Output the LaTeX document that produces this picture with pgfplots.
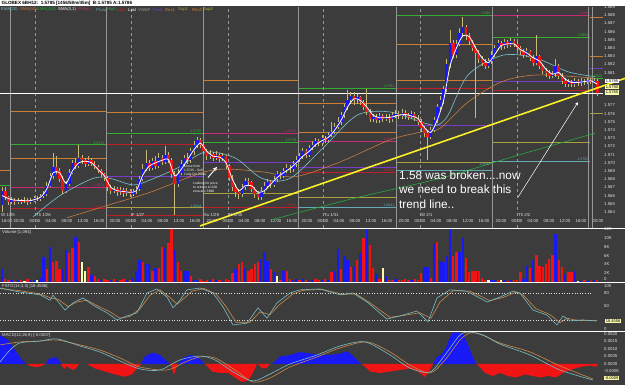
\documentclass[border=0pt]{standalone}
\usepackage{pgfplots}
\pgfplotsset{compat=1.18}
\usepackage{pgfplotstable}
\usepackage{fontspec}
\setmainfont{Liberation Sans}
\definecolor{bg}{RGB}{60,60,60}
\definecolor{cblue}{RGB}{25,25,245}
\definecolor{cred}{RGB}{240,20,20}
\definecolor{wick}{RGB}{200,185,120}
\definecolor{vyel}{RGB}{250,250,170}
\definecolor{lbl}{RGB}{225,225,225}
\definecolor{tealc}{RGB}{120,195,205}
\definecolor{brownc}{RGB}{200,125,60}
\definecolor{greenc}{RGB}{40,170,60}
\definecolor{orc}{RGB}{205,125,50}
\definecolor{mag}{RGB}{200,40,120}
\definecolor{purp}{RGB}{120,60,200}
\definecolor{olive}{RGB}{170,160,60}
\definecolor{pvteal}{RGB}{100,170,180}
\definecolor{pvred}{RGB}{190,30,40}
\definecolor{pvgreen}{RGB}{50,175,50}
\definecolor{trend}{RGB}{250,240,40}
\definecolor{vline}{RGB}{150,150,150}
\definecolor{stk}{RGB}{120,190,200}
\definecolor{std}{RGB}{205,140,70}
\newcommand\tk{\fontsize{4.3}{5}\selectfont}
\newcommand\sm{\fontsize{3.6}{4.2}\selectfont}

% n open high low close type(1 up,0 down) volume(K) volcolour(1 blue,0 red,2 yellow)
\pgfplotstableread{
n o h l c t v vc
0 1.5648 1.5670 1.5640 1.5666 1 3.0 1
1 1.5666 1.5670 1.5655 1.5658 0 0.6 0
2 1.5658 1.5660 1.5648 1.5652 0 0.4 0
3 1.5652 1.5658 1.5650 1.5655 1 0.5 1
4 1.5655 1.5657 1.5649 1.5652 0 0.3 0
5 1.5652 1.5657 1.5650 1.5654 1 0.4 1
6 1.5654 1.5656 1.5650 1.5653 0 0.5 0
7 1.5653 1.5658 1.5651 1.5655 1 0.3 2
8 1.5655 1.5657 1.5649 1.5652 0 0.6 0
9 1.5652 1.5657 1.5650 1.5654 1 0.4 1
10 1.5654 1.5660 1.5652 1.5657 1 0.5 1
11 1.5657 1.5660 1.5653 1.5656 0 0.4 2
12 1.5656 1.5662 1.5654 1.5659 1 1.0 1
13 1.5659 1.5666 1.5657 1.5662 1 5.7 1
14 1.5662 1.5676 1.5660 1.5672 1 3.0 0
15 1.5672 1.5688 1.5670 1.5684 1 8.0 1
16 1.5684 1.5712 1.5680 1.5695 1 4.6 0
17 1.5695 1.5708 1.5686 1.5690 0 4.8 0
18 1.5690 1.5694 1.5676 1.5680 0 3.0 0
19 1.5680 1.5684 1.5662 1.5666 0 3.0 1
20 1.5666 1.5678 1.5663 1.5674 1 7.2 1
21 1.5674 1.5692 1.5672 1.5688 1 6.7 0
22 1.5688 1.5704 1.5686 1.5700 1 7.7 0
23 1.5700 1.5706 1.5692 1.5696 0 10.2 1
24 1.5696 1.5722 1.5694 1.5706 1 9.0 0
25 1.5706 1.5710 1.5699 1.5703 0 4.5 2
26 1.5703 1.5706 1.5695 1.5698 0 2.6 2
27 1.5698 1.5708 1.5696 1.5704 1 3.3 0
28 1.5704 1.5706 1.5696 1.5699 0 1.7 1
29 1.5699 1.5702 1.5692 1.5695 0 1.3 0
30 1.5695 1.5697 1.5687 1.5690 0 0.6 0
31 1.5690 1.5693 1.5683 1.5686 0 0.5 1
32 1.5686 1.5688 1.5678 1.5682 0 0.7 0
33 1.5682 1.5684 1.5666 1.5670 0 0.5 0
34 1.5670 1.5673 1.5662 1.5666 0 0.4 1
35 1.5666 1.5672 1.5663 1.5668 1 0.6 0
36 1.5668 1.5670 1.5660 1.5664 0 0.3 1
37 1.5664 1.5670 1.5661 1.5667 1 0.5 0
38 1.5667 1.5669 1.5658 1.5663 0 0.6 0
39 1.5663 1.5669 1.5660 1.5666 1 0.4 1
40 1.5666 1.5668 1.5658 1.5662 0 0.5 0
41 1.5662 1.5668 1.5659 1.5665 1 0.8 1
42 1.5665 1.5672 1.5662 1.5668 1 2.5 1
43 1.5668 1.5684 1.5666 1.5680 1 5.0 1
44 1.5680 1.5698 1.5678 1.5693 1 4.6 0
45 1.5693 1.5715 1.5690 1.5700 1 4.0 1
46 1.5700 1.5704 1.5690 1.5694 0 4.0 1
47 1.5694 1.5706 1.5691 1.5702 1 2.5 0
48 1.5702 1.5708 1.5692 1.5696 0 3.2 1
49 1.5696 1.5712 1.5694 1.5706 1 3.2 0
50 1.5706 1.5710 1.5697 1.5701 0 8.0 0
51 1.5701 1.5720 1.5699 1.5710 1 7.7 1
52 1.5710 1.5713 1.5700 1.5704 0 8.8 0
53 1.5704 1.5706 1.5682 1.5686 0 12.2 0
54 1.5686 1.5690 1.5636 1.5674 0 7.2 1
55 1.5674 1.5692 1.5670 1.5688 1 4.5 0
56 1.5688 1.5703 1.5685 1.5699 1 2.5 0
57 1.5699 1.5710 1.5696 1.5706 1 2.5 1
58 1.5706 1.5712 1.5699 1.5703 0 2.5 1
59 1.5703 1.5718 1.5700 1.5714 1 1.3 0
60 1.5714 1.5726 1.5710 1.5722 1 0.5 1
61 1.5722 1.5732 1.5718 1.5728 1 0.4 1
62 1.5728 1.5730 1.5718 1.5722 0 0.6 0
63 1.5722 1.5725 1.5710 1.5714 0 0.3 0
64 1.5714 1.5717 1.5704 1.5708 0 0.5 0
65 1.5708 1.5715 1.5705 1.5711 1 0.4 1
66 1.5711 1.5713 1.5702 1.5706 0 0.6 0
67 1.5706 1.5714 1.5703 1.5710 1 0.5 1
68 1.5710 1.5712 1.5701 1.5705 0 0.4 0
69 1.5705 1.5712 1.5702 1.5708 1 0.3 1
70 1.5708 1.5710 1.5692 1.5696 0 0.6 0
71 1.5696 1.5698 1.5678 1.5682 0 0.5 0
72 1.5682 1.5685 1.5666 1.5670 0 2.0 0
73 1.5670 1.5674 1.5658 1.5664 0 3.0 1
74 1.5664 1.5668 1.5656 1.5662 0 4.0 0
75 1.5662 1.5674 1.5658 1.5670 1 4.5 0
76 1.5670 1.5682 1.5667 1.5678 1 3.2 1
77 1.5678 1.5682 1.5672 1.5676 0 2.5 0
78 1.5676 1.5678 1.5664 1.5668 0 3.0 0
79 1.5668 1.5671 1.5657 1.5662 0 4.0 0
80 1.5662 1.5666 1.5655 1.5658 0 4.5 0
81 1.5658 1.5670 1.5655 1.5666 1 5.3 1
82 1.5666 1.5676 1.5663 1.5672 1 6.8 1
83 1.5672 1.5680 1.5669 1.5676 1 4.7 1
84 1.5676 1.5679 1.5669 1.5673 0 3.0 0
85 1.5673 1.5684 1.5670 1.5680 1 2.2 1
86 1.5680 1.5690 1.5677 1.5686 1 1.3 2
87 1.5686 1.5689 1.5680 1.5684 0 0.5 0
88 1.5684 1.5694 1.5681 1.5690 1 2.4 1
89 1.5690 1.5698 1.5687 1.5694 1 2.4 0
90 1.5694 1.5697 1.5688 1.5692 0 0.6 0
91 1.5692 1.5702 1.5689 1.5698 1 0.5 1
92 1.5698 1.5708 1.5695 1.5704 1 0.7 1
93 1.5704 1.5712 1.5701 1.5708 1 0.4 0
94 1.5708 1.5718 1.5705 1.5714 1 0.6 1
95 1.5714 1.5717 1.5706 1.5710 0 0.5 0
96 1.5710 1.5722 1.5707 1.5718 1 0.3 1
97 1.5718 1.5726 1.5715 1.5722 1 0.5 1
98 1.5722 1.5730 1.5719 1.5726 1 0.6 0
99 1.5726 1.5729 1.5720 1.5724 0 0.4 0
100 1.5724 1.5734 1.5721 1.5730 1 0.5 1
101 1.5730 1.5733 1.5724 1.5728 0 0.7 0
102 1.5728 1.5738 1.5725 1.5734 1 0.5 1
103 1.5734 1.5750 1.5731 1.5738 1 2.2 0
104 1.5738 1.5748 1.5735 1.5744 1 2.6 1
105 1.5744 1.5756 1.5741 1.5750 1 7.5 1
106 1.5750 1.5762 1.5746 1.5758 1 3.0 0
107 1.5758 1.5772 1.5755 1.5768 1 6.0 1
108 1.5768 1.5789 1.5764 1.5776 1 5.0 1
109 1.5776 1.5786 1.5772 1.5782 1 3.5 0
110 1.5782 1.5786 1.5771 1.5776 0 3.6 1
111 1.5776 1.5784 1.5772 1.5780 1 5.0 0
112 1.5780 1.5782 1.5770 1.5774 0 6.5 1
113 1.5774 1.5776 1.5764 1.5768 0 10.0 0
114 1.5768 1.5790 1.5758 1.5762 0 12.2 1
115 1.5762 1.5765 1.5750 1.5754 0 8.5 0
116 1.5754 1.5760 1.5750 1.5756 1 3.2 0
117 1.5756 1.5759 1.5748 1.5752 0 1.8 1
118 1.5752 1.5761 1.5749 1.5757 1 0.6 0
119 1.5757 1.5760 1.5750 1.5754 0 3.2 2
120 1.5754 1.5760 1.5751 1.5756 1 1.3 1
121 1.5756 1.5759 1.5749 1.5753 0 0.5 0
122 1.5753 1.5762 1.5750 1.5758 1 0.4 0
123 1.5758 1.5764 1.5755 1.5760 1 0.6 1
124 1.5760 1.5763 1.5753 1.5757 0 0.5 0
125 1.5757 1.5765 1.5754 1.5761 1 0.4 0
126 1.5761 1.5764 1.5754 1.5758 0 0.6 0
127 1.5758 1.5761 1.5752 1.5756 0 0.5 0
128 1.5756 1.5763 1.5753 1.5759 1 0.4 1
129 1.5759 1.5762 1.5751 1.5755 0 0.6 0
130 1.5755 1.5758 1.5746 1.5750 0 0.5 0
131 1.5750 1.5753 1.5738 1.5742 0 2.0 0
132 1.5742 1.5745 1.5731 1.5736 0 3.5 1
133 1.5736 1.5739 1.5703 1.5732 0 3.5 1
134 1.5732 1.5744 1.5729 1.5740 1 0.8 0
135 1.5740 1.5756 1.5737 1.5752 1 8.6 1
136 1.5752 1.5772 1.5749 1.5768 1 9.0 0
137 1.5768 1.5782 1.5764 1.5776 1 4.8 1
138 1.5776 1.5794 1.5772 1.5790 1 4.5 1
139 1.5790 1.5826 1.5786 1.5820 1 6.0 1
140 1.5820 1.5862 1.5816 1.5846 1 12.2 1
141 1.5846 1.5850 1.5828 1.5832 0 5.8 0
142 1.5832 1.5850 1.5828 1.5845 1 6.8 0
143 1.5845 1.5864 1.5842 1.5858 1 6.8 1
144 1.5858 1.5878 1.5854 1.5865 1 10.0 1
145 1.5865 1.5868 1.5850 1.5855 0 5.5 0
146 1.5855 1.5858 1.5844 1.5848 0 2.2 0
147 1.5848 1.5850 1.5836 1.5840 0 2.5 0
148 1.5840 1.5843 1.5755 1.5834 0 2.5 0
149 1.5834 1.5837 1.5822 1.5826 0 2.5 0
150 1.5826 1.5830 1.5818 1.5822 0 1.0 0
151 1.5822 1.5826 1.5814 1.5818 0 0.5 0
152 1.5818 1.5828 1.5815 1.5824 1 0.4 2
153 1.5824 1.5836 1.5821 1.5832 1 0.5 1
154 1.5832 1.5844 1.5829 1.5840 1 0.4 1
155 1.5840 1.5850 1.5837 1.5846 1 0.5 0
156 1.5846 1.5849 1.5838 1.5842 0 0.4 2
157 1.5842 1.5851 1.5839 1.5847 1 0.5 1
158 1.5847 1.5850 1.5840 1.5844 0 0.3 0
159 1.5844 1.5852 1.5841 1.5848 1 0.5 1
160 1.5848 1.5851 1.5841 1.5845 0 0.4 0
161 1.5845 1.5848 1.5836 1.5840 0 0.5 0
162 1.5840 1.5843 1.5832 1.5836 0 2.2 0
163 1.5836 1.5839 1.5828 1.5832 0 0.6 1
164 1.5832 1.5840 1.5829 1.5836 1 3.7 1
165 1.5836 1.5838 1.5824 1.5828 0 3.2 0
166 1.5828 1.5831 1.5818 1.5822 0 5.0 1
167 1.5822 1.5856 1.5819 1.5830 1 6.2 0
168 1.5830 1.5832 1.5814 1.5818 0 3.6 0
169 1.5818 1.5821 1.5808 1.5812 0 3.3 0
170 1.5812 1.5815 1.5805 1.5810 0 4.0 0
171 1.5810 1.5813 1.5802 1.5806 0 5.3 0
172 1.5806 1.5812 1.5803 1.5808 1 6.2 0
173 1.5808 1.5826 1.5805 1.5818 1 11.0 1
174 1.5818 1.5820 1.5802 1.5806 0 5.0 0
175 1.5806 1.5809 1.5796 1.5800 0 3.3 0
176 1.5800 1.5803 1.5793 1.5796 0 1.8 1
177 1.5796 1.5802 1.5793 1.5799 1 2.2 0
178 1.5799 1.5801 1.5792 1.5796 0 2.3 0
179 1.5796 1.5803 1.5793 1.5800 1 2.5 1
180 1.5800 1.5802 1.5794 1.5797 0 0.3 2
181 1.5797 1.5803 1.5794 1.5800 1 0.3 1
182 1.5800 1.5802 1.5795 1.5798 0 0.4 0
183 1.5798 1.5804 1.5796 1.5801 1 0.3 1
184 1.5801 1.5803 1.5796 1.5799 0 0.3 0
185 1.5799 1.5803 1.5797 1.5800 1 0.4 1
186 1.5800 1.5802 1.5782 1.5785 0 0.5 0
}\candles

\pgfplotstableread{
n s
0 1.5660
3 1.5655
6 1.5654
9 1.5654
12 1.5658
14 1.5668
16 1.5688
18 1.5688
20 1.5675
22 1.5690
24 1.5700
26 1.5702
28 1.5700
30 1.5692
32 1.5684
34 1.5670
36 1.5666
38 1.5665
40 1.5664
42 1.5666
44 1.5685
46 1.5696
48 1.5700
50 1.5703
52 1.5704
54 1.5684
56 1.5692
58 1.5704
60 1.5716
62 1.5724
64 1.5714
66 1.5708
68 1.5707
70 1.5700
72 1.5680
74 1.5666
76 1.5672
78 1.5672
80 1.5664
82 1.5666
84 1.5674
86 1.5682
88 1.5688
90 1.5693
92 1.5700
94 1.5708
96 1.5714
98 1.5722
100 1.5727
102 1.5731
104 1.5740
106 1.5752
108 1.5768
110 1.5778
112 1.5776
114 1.5768
116 1.5758
118 1.5755
120 1.5755
122 1.5756
124 1.5758
126 1.5759
128 1.5757
130 1.5754
132 1.5743
134 1.5737
136 1.5752
138 1.5776
140 1.5818
142 1.5840
144 1.5855
146 1.5854
148 1.5840
150 1.5828
152 1.5822
154 1.5832
156 1.5843
158 1.5845
160 1.5845
162 1.5838
164 1.5834
166 1.5828
168 1.5824
170 1.5814
172 1.5808
174 1.5810
176 1.5802
178 1.5798
180 1.5798
182 1.5799
184 1.5800
186 1.5796
}\smathree

\pgfplotsset{
  panel/.style={scale only axis, width=603pt, xmin=0, xmax=603,
    axis line style={draw=none}, major tick length=0pt, minor tick num=0,
    scaled y ticks=false, ytick pos=right, yticklabel pos=right,
    yticklabel style={font=\tk, text=lbl, anchor=west, inner sep=1pt},
    /pgf/number format/assume math mode=true},
  pv/.style={line width=0.6pt, mark=none},
  candle/.style={draw=none, mark=none, error bars/y dir=plus, error bars/y explicit, error bars/error mark=none},
}

\begin{document}
\begin{tikzpicture}
\useasboundingbox (0pt,0pt) rectangle (625pt,385pt);
\fill[bg] (0pt,0pt) rectangle (625pt,385pt);

%================ MAIN PRICE PANEL
\begin{axis}[panel, at={(0pt,157pt)}, anchor=south west, height=221pt,
  ymin=1.562049, ymax=1.589, clip=false,
  ytick={1.564,1.565,1.566,1.567,1.568,1.569,1.570,1.571,1.572,1.573,1.574,1.575,1.576,1.577,1.581,1.582,1.583,1.584,1.585,1.586,1.587,1.588,1.589},
  yticklabels={1.564,1.565,1.566,1.567,1.568,1.569,1.570,1.571,1.572,1.573,1.574,1.575,1.576,1.577,1.581,1.582,1.583,1.584,1.585,1.586,1.587,1.588,1.589},
  xtick={7,19,35,51,67,83,99,115,131,147,163,179,195,212,228,244,260,276,292,307,323,339,355,371,387,404,420,436,452,468,484,501,517,533,549,565,581,598},
  xticklabels={16:00,20:00,00:00,04:00,08:00,12:00,16:00,20:00,00:00,04:00,08:00,12:00,16:00,20:00,00:00,04:00,08:00,12:00,16:00,20:00,00:00,04:00,08:00,12:00,16:00,20:00,00:00,04:00,08:00,12:00,16:00,20:00,00:00,04:00,08:00,12:00,16:00,20:00},
  xticklabel style={font=\tk, text=lbl, anchor=south, yshift=1.5pt},
]
% pivot levels
\addplot[pv, orc] coordinates {(0,1.5691) (10,1.5691)};
\addplot[pv, pvgreen] coordinates {(0,1.5673) (10,1.5673)};
\addplot[pv, orc] coordinates {(10,1.5763) (106,1.5763)};
\addplot[pv, pvgreen] coordinates {(10,1.5722) (106,1.5722)};
\addplot[pv, orc] coordinates {(10,1.5706) (106,1.5706)};
\addplot[pv, mag] coordinates {(10,1.5670) (106,1.5670)};
\addplot[pv, pvred] coordinates {(10,1.5644) (106,1.5644)};
\addplot[pv, orc] coordinates {(106,1.5761) (203,1.5761)};
\addplot[pv, pvgreen] coordinates {(106,1.5736) (203,1.5736)};
\addplot[pv, pvred] coordinates {(106,1.5722) (203,1.5722)};
\addplot[pv, purp] coordinates {(106,1.5683) (203,1.5683)};
\addplot[pv, olive] coordinates {(106,1.5646) (203,1.5646)};
\addplot[pv, pvred] coordinates {(106,1.5636) (203,1.5636)};
\addplot[pv, orc] coordinates {(203,1.5800) (298,1.5800)};
\addplot[pv, mag] coordinates {(203,1.5736) (298,1.5736)};
\addplot[pv, pvgreen] coordinates {(203,1.5725) (298,1.5725)};
\addplot[pv, purp] coordinates {(203,1.5700) (298,1.5700)};
\addplot[pv, olive] coordinates {(203,1.5663) (298,1.5663)};
\addplot[pv, pvred] coordinates {(203,1.5646) (298,1.5646)};
\addplot[pv, pvgreen] coordinates {(298,1.5791) (396,1.5791)};
\addplot[pv, orc] coordinates {(298,1.5773) (396,1.5773)};
\addplot[pv, orc] coordinates {(298,1.5737) (396,1.5737)};
\addplot[pv, mag] coordinates {(298,1.5726) (396,1.5726)};
\addplot[pv, purp] coordinates {(298,1.5694) (396,1.5694)};
\addplot[pv, pvred] coordinates {(298,1.5689) (396,1.5689)};
\addplot[pv, olive] coordinates {(298,1.5658) (396,1.5658)};
\addplot[pv, pvteal] coordinates {(298,1.5646) (396,1.5646)};
\addplot[pv, pvgreen] coordinates {(396,1.5880) (492,1.5880)};
\addplot[pv, orc] coordinates {(396,1.5845) (492,1.5845)};
\addplot[pv, orc] coordinates {(396,1.5800) (492,1.5800)};
\addplot[pv, pvred] coordinates {(396,1.5791) (492,1.5791)};
\addplot[pv, purp] coordinates {(396,1.5746) (492,1.5746)};
\addplot[pv, olive] coordinates {(396,1.5701) (492,1.5701)};
\addplot[pv, pvteal] coordinates {(396,1.5691) (492,1.5691)};
\addplot[pv, mag] coordinates {(492,1.5880) (590,1.5880)};
\addplot[pv, pvgreen] coordinates {(492,1.5853) (590,1.5853)};
\addplot[pv, purp] coordinates {(492,1.5799) (590,1.5799)};
\addplot[pv, pvred] coordinates {(492,1.5789) (590,1.5789)};
\addplot[pv, olive] coordinates {(492,1.5725) (590,1.5725)};
\addplot[pv, pvteal] coordinates {(492,1.5702) (590,1.5702)};
\addplot[pv, orc] coordinates {(590,1.5878) (603,1.5878)};
\addplot[pv, orc] coordinates {(590,1.5830) (603,1.5830)};
\addplot[pv, purp] coordinates {(590,1.5815) (603,1.5815)};
\addplot[pv, pvgreen] coordinates {(590,1.5803) (603,1.5803)};
\addplot[pv, olive] coordinates {(590,1.5760) (603,1.5760)};
% session / midnight lines
\pgfplotsinvokeforeach{10,106,203,298,396,492,588,592}{
  \addplot[vline, line width=0.5pt, mark=none] coordinates {(#1,1.56205) (#1,1.589)};}
\pgfplotsinvokeforeach{35,131,228,323,420,517}{
  \addplot[vline, line width=0.5pt, dashed, mark=none] coordinates {(#1,1.56205) (#1,1.589)};}
% last price line
\addplot[white, line width=0.5pt, mark=none] coordinates {(0,1.5785) (603,1.5785)};
% moving averages
\addplot[greenc, line width=0.6pt, mark=none, smooth] coordinates {(270,1.5630) (355,1.5657) (440,1.5681) (520,1.5710) (595,1.5736)};
\addplot[brownc, line width=0.6pt, mark=none, smooth] coordinates {(67,1.5633) (110,1.5649) (150,1.5664) (212,1.5691) (262,1.5689) (295,1.5683) (340,1.5701) (390,1.5728) (423,1.5738) (440,1.5742) (468,1.5774) (502,1.5799) (535,1.5807) (575,1.5805) (595,1.5803)};
\addplot[tealc, line width=0.6pt, mark=none, smooth] coordinates {(33,1.5634) (60,1.5660) (93,1.5681) (110,1.5681) (133,1.5673) (150,1.5679) (178,1.5694) (205,1.5713) (235,1.5706) (262,1.5681) (290,1.5681) (323,1.5718) (357,1.5758) (390,1.5762) (423,1.5749) (437,1.5746) (448,1.5758) (468,1.5807) (502,1.5831) (535,1.5828) (568,1.5811) (595,1.5805)};
% candles: wicks then bodies (error bars from low to high, open to close)
\addplot[candle, error bars/error bar style={line width=0.7pt, draw=wick, solid}]
  table[x expr=2+3.2*\thisrow{n}, y=l, y error plus expr=\thisrow{h}-\thisrow{l}]{\candles};
\addplot[candle, error bars/error bar style={line width=2.8pt, draw=cblue, solid}, restrict expr to domain={\thisrow{t}}{0.5:1.5}]
  table[x expr=2+3.2*\thisrow{n}, y=o, y error plus expr=\thisrow{c}-\thisrow{o}]{\candles};
\addplot[candle, error bars/error bar style={line width=2.8pt, draw=cred, solid}, restrict expr to domain={\thisrow{t}}{-0.5:0.5}]
  table[x expr=2+3.2*\thisrow{n}, y=c, y error plus expr=\thisrow{o}-\thisrow{c}]{\candles};
% fast SMA
\addplot[white, line width=0.8pt, mark=none, smooth, tension=0.4] table[x expr=2+3.2*\thisrow{n}, y=s]{\smathree};
% trend line and arrows
\addplot[trend, line width=1.6pt, mark=none] coordinates {(200,1.5623) (625,1.5803)};
\addplot[white, line width=0.5pt, mark=none, -stealth] coordinates {(518,1.5658) (578,1.5774)};
\addplot[white, line width=0.9pt, mark=none, -stealth] coordinates {(208,1.5682) (217,1.5695)};
\end{axis}

%================ VOLUME
\begin{axis}[panel, at={(0pt,103pt)}, anchor=south west, height=53pt,
  ymin=0, ymax=12.05, xtick=\empty,
  ytick={2,4,6,8,10,12}, yticklabels={2K,4K,6K,8K,10K,12K}]
\addplot[ycomb, draw=cblue, line width=2.4pt, mark=none, restrict expr to domain={\thisrow{vc}}{0.5:1.5}]
  table[x expr=2+3.2*\thisrow{n}, y=v]{\candles};
\addplot[ycomb, draw=cred, line width=2.4pt, mark=none, restrict expr to domain={\thisrow{vc}}{-0.5:0.5}]
  table[x expr=2+3.2*\thisrow{n}, y=v]{\candles};
\addplot[ycomb, draw=vyel, line width=2.4pt, mark=none, restrict expr to domain={\thisrow{vc}}{1.5:2.5}]
  table[x expr=2+3.2*\thisrow{n}, y=v]{\candles};
\end{axis}

%================ STOCHASTIC
\begin{axis}[panel, at={(0pt,54pt)}, anchor=south west, height=48pt,
  ymin=-4.44, ymax=102.2, xtick=\empty,
  ytick={0,50,80}, yticklabels={0,50,80}]
\addplot[lbl, dotted, line width=0.6pt, mark=none] coordinates {(0,80) (592,80)};
\addplot[lbl, dotted, line width=0.6pt, mark=none] coordinates {(0,20) (592,20)};
\addplot[std, line width=0.6pt, mark=none] coordinates {(0,90) (20,85) (40,78) (52,68) (58,66) (68,50) (77,60) (87,64) (97,52) (110,38) (120,24) (130,28) (140,45) (150,75) (160,87) (170,70) (177,55) (184,68) (192,84) (204,90) (216,78) (226,50) (236,15) (250,15) (260,38) (270,32) (280,55) (293,78) (303,86) (322,88) (343,77) (356,78) (370,58) (390,26) (403,30) (420,36) (431,24) (440,60) (453,85) (470,84) (490,63) (503,70) (516,82) (523,76) (536,45) (550,32) (560,14) (567,24) (575,20) (588,19) (597,19)};
\addplot[stk, line width=0.6pt, mark=none] coordinates {(0,91) (20,82) (40,76) (50,64) (53,75) (65,42) (73,58) (83,69) (93,53) (107,36) (117,20) (127,29) (137,36) (147,80) (157,89) (167,71) (173,47) (180,64) (187,87) (200,91) (213,80) (223,49) (233,9) (247,13) (258,47) (267,24) (277,58) (290,80) (300,87) (320,89) (340,76) (353,80) (367,60) (387,22) (400,29) (417,40) (428,16) (437,69) (450,87) (467,84) (487,60) (500,71) (513,84) (520,80) (533,42) (547,31) (557,9) (563,29) (570,18) (583,20) (597,18)};
\end{axis}

%================ MACD
\begin{axis}[panel, at={(0pt,0pt)}, anchor=south west, height=53pt,
  ymin=-0.0014, ymax=0.002133, xtick=\empty,
  ytick={-0.001,-0.0005,0,0.0005,0.001,0.0015,0.002},
  yticklabels={-0.0010,-0.0005,0.0000,0.0005,0.0010,0.0015,0.0020}]
\addplot[fill=cblue, draw=none] coordinates {(0,0) (0,0.00193) (8,0.0016) (15,0.00093) (22,0.00027) (26,0)};
\addplot[fill=cred, draw=none] coordinates {(27,0) (30,-0.00012) (35,-0.0002) (40,-0.00018) (44,-0.00005) (46,0)};
\addplot[fill=cblue, draw=none] coordinates {(46,0) (49,0.00035) (53,0.0004) (56,0.00047) (59,0.0002) (61,0)};
\addplot[fill=cred, draw=none] coordinates {(61,0) (64,-0.00035) (67,-0.00015) (70,-0.0003) (74,-0.0004) (77,-0.0002) (79,0)};
\addplot[fill=cred, draw=none] coordinates {(87,0) (95,-0.0003) (105,-0.0005) (115,-0.0007) (125,-0.00085) (132,-0.0007) (137,-0.0003) (141,0)};
\addplot[fill=cblue, draw=none] coordinates {(141,0) (145,0.0005) (150,0.0007) (155,0.00073) (160,0.0006) (165,0.0003) (170,0)};
\addplot[fill=cred, draw=none] coordinates {(170,0) (172,-0.0003) (174,-0.00073) (176,-0.0003) (178,0)};
\addplot[fill=cblue, draw=none] coordinates {(178,0) (183,0.0004) (190,0.0006) (197,0.0005) (202,0.0002) (204,0)};
\addplot[fill=cred, draw=none] coordinates {(205,0) (212,-0.0005) (220,-0.0006) (228,-0.0006) (235,-0.0009) (242,-0.0012) (248,-0.0011) (253,-0.0006) (257,0)};
\addplot[fill=cred, draw=none] coordinates {(258,0) (262,-0.0003) (266,-0.0003) (270,0)};
\addplot[fill=cblue, draw=none] coordinates {(272,0) (280,0.0005) (290,0.0006) (300,0.0008) (310,0.0007) (320,0.0006) (330,0.0006) (340,0.0007) (347,0.00085) (352,0.0006) (358,0.0002) (361,0)};
\addplot[fill=cred, draw=none] coordinates {(362,0) (370,-0.0005) (380,-0.0006) (390,-0.0005) (400,-0.0004) (410,-0.0003) (418,-0.0005) (425,-0.00087) (430,-0.0004) (433,0)};
\addplot[fill=cblue, draw=none] coordinates {(433,0) (437,0.0005) (441,0.0006) (446,0.0011) (450,0.0018) (453,0.0021) (458,0.0021) (463,0.002) (468,0.0013) (472,0.0006) (476,0)};
\addplot[fill=cred, draw=none] coordinates {(477,0) (485,-0.0006) (493,-0.0008) (500,-0.0006) (508,-0.0008) (516,-0.0009) (525,-0.0007) (533,-0.0008) (540,-0.0009) (548,-0.0008) (556,-0.0009) (563,-0.0006) (570,-0.0004) (580,-0.0002) (590,-0.0001) (596,-0.0002) (598,0)};
\addplot[std, line width=0.6pt, mark=none, smooth] coordinates {(0,0.00127) (20,0.00147) (40,0.00153) (57,0.0016) (80,0.00127) (100,0.00093) (120,0.0004) (140,-0.0002) (167,-0.0004) (185,0.00013) (200,0.00047) (215,0.0004) (235,-0.0004) (253,-0.0012) (270,-0.00093) (290,-0.0002) (317,0.00047) (340,0.00107) (367,0.00147) (390,0.0008) (410,-0.00007) (430,-0.0006) (445,0.00027) (460,0.0016) (470,0.00207) (480,0.002) (500,0.0014) (530,0.0008) (560,-0.00013) (593,-0.001)};
\addplot[stk, line width=0.6pt, mark=none, smooth] coordinates {(0,0.00013) (10,0.00093) (20,0.0014) (40,0.00153) (57,0.00167) (80,0.0012) (100,0.0008) (120,0.0002) (140,-0.00033) (160,-0.0004) (180,0.00027) (200,0.00053) (215,0.00027) (235,-0.0006) (253,-0.00113) (270,-0.00067) (290,0) (317,0.0006) (340,0.0012) (365,0.00147) (390,0.0006) (410,-0.00027) (430,-0.00053) (445,0.0006) (460,0.00193) (470,0.00213) (485,0.00187) (500,0.00133) (530,0.0006) (560,-0.0004) (593,-0.00107)};
\end{axis}

%================ overlays in pixel coordinates
\begin{scope}[shift={(0pt,385pt)}, x=1pt, y=-1pt]
% separators
\draw[white, line width=1.5pt] (0,228.5) -- (625,228.5);
\draw[white, line width=1.5pt] (0,282.5) -- (625,282.5);
\draw[white, line width=1.5pt] (0,331.5) -- (625,331.5);
% extra axis labels placed clear of the separator
\node[anchor=west, inner sep=1pt, text=lbl, font=\tk] at (603,279.3) {0};
\node[anchor=west, inner sep=1pt, text=lbl, font=\tk] at (603,286.3) {100};
% header
\fill[white] (0,0) rectangle (625,6.5);
\node[anchor=west, inner sep=0.5pt, font=\fontsize{4.6}{5}\selectfont\bfseries] at (1,3.3) {GLOBEX 6BH12:\ \ 1.5785 [1456/58m/45m]\ \ B:1.5785 A:1.5786};
% indicator legend row
\begin{scope}[every node/.style={anchor=west, inner sep=0pt, font=\fontsize{4.2}{5}\selectfont}]
\node[text=tealc] at (1,9.8) {EMA(20)};
\node[text=orc] at (20,9.8) {SMA(50)};
\node[text=greenc] at (37,9.8) {EMA(200)};
\node[text=white] at (58,9.8) {SMA(3,1)};
\node[text=mag] at (78,9.8) {PHigh};
\node[text=pvteal] at (96,9.8) {PLow};
\node[text=greenc] at (107,9.8) {High};
\node[text=cred] at (117,9.8) {Low};
\node[text=white] at (128,9.8) {Last};
\node[text=lbl!70!black] at (138,9.8) {VWAP};
\node[text=purp] at (153,9.8) {Pivot};
\node[text=orc] at (165,9.8) {Res1};
\node[text=olive] at (178,9.8) {Sup1};
\node[text=orc] at (192,9.8) {Res2};
\node[text=olive!80!yellow] at (203,9.8) {Sup2};
\end{scope}
% pivot labels
\begin{scope}[every node/.style={anchor=south east, inner sep=0.3pt, font=\sm}]
\node[text=pvgreen] at (105,145) {1.5721};
\node[text=mag] at (105,187) {1.5671};
\node[text=pvred] at (105,209) {1.5644};
\node[text=pvgreen] at (202,133) {1.5735};
\node[text=pvteal] at (202,208) {1.5644};
\node[text=mag] at (297,133) {1.5735};
\node[text=pvgreen] at (297,142) {1.5725};
\node[text=pvred] at (297,207) {1.5646};
\node[text=pvgreen] at (395,88) {1.5791};
\node[text=mag] at (395,141) {1.5727};
\node[text=pvred] at (395,172) {1.5690};
\node[text=pvteal] at (395,207) {1.5641};
\node[text=pvgreen] at (491,15) {1.588};
\node[text=pvred] at (491,88) {1.5781};
\node[text=pvteal] at (491,166) {1.5692};
\node[text=mag] at (589,15) {1.588};
\node[text=pvgreen] at (589,37) {1.5854};
\node[text=pvred] at (589,90) {1.5792};
\node[text=pvteal] at (589,161) {1.5702};
\node[text=pvgreen] at (603,78) {1.5800};
\end{scope}
% date labels
\begin{scope}[every node/.style={anchor=west, inner sep=0pt, text=lbl, font=\tk}]
\node at (1,215) {W 1/25};
\node at (36,215) {Th 1/26};
\node at (132,215) {F 1/27};
\node at (204,215) {Su 1/29};
\node at (229,215) {M 1/30};
\node at (324,215) {Tu 1/31};
\node at (421,215) {W 2/1};
\node at (518,215) {Th 2/2};
\end{scope}
% small notes
\node[anchor=north west, align=left, inner sep=0pt, text=white, font=\fontsize{3.3}{3.8}\selectfont] at (184,165) {Close from\\1.5715 - Sell\\Long On Close};
\node[anchor=north west, align=left, inner sep=0pt, text=white, font=\fontsize{3.3}{4.2}\selectfont] at (193,182) {Looking for price\\to retrace to 200\\ema at 1.5690};
% main annotation
\node[anchor=north west, align=left, inner sep=0pt, text=white, font=\fontsize{11.8}{14.5}\selectfont] at (399,170.5) {1.58 was broken....now\\we need to break this\\trend line..};
% panel titles
\begin{scope}[every node/.style={anchor=west, inner sep=0pt, text=lbl, font=\tk}]
\node at (2,232.5) {Volume [1,094]};
\node at (2,286) {FSTO(14,3,3) [18.4556]};
\node at (2,335) {MACD(12,26,9) [-0.0007]};
\end{scope}
% value flags
\begin{scope}[every node/.style={anchor=west, inner sep=0.6pt, font=\fontsize{4}{4.5}\selectfont, text=black}]
\node[fill=white] at (605,81) {1.5795};
\node[fill=vyel] at (605,87) {1.5790};
\node[fill=vyel] at (605,92.5) {1.5785};
\node[fill=vyel] at (605,321) {18.4556};
\node[fill=vyel] at (604,378) {-0.0009};
\end{scope}
\end{scope}
\end{tikzpicture}
\end{document}
